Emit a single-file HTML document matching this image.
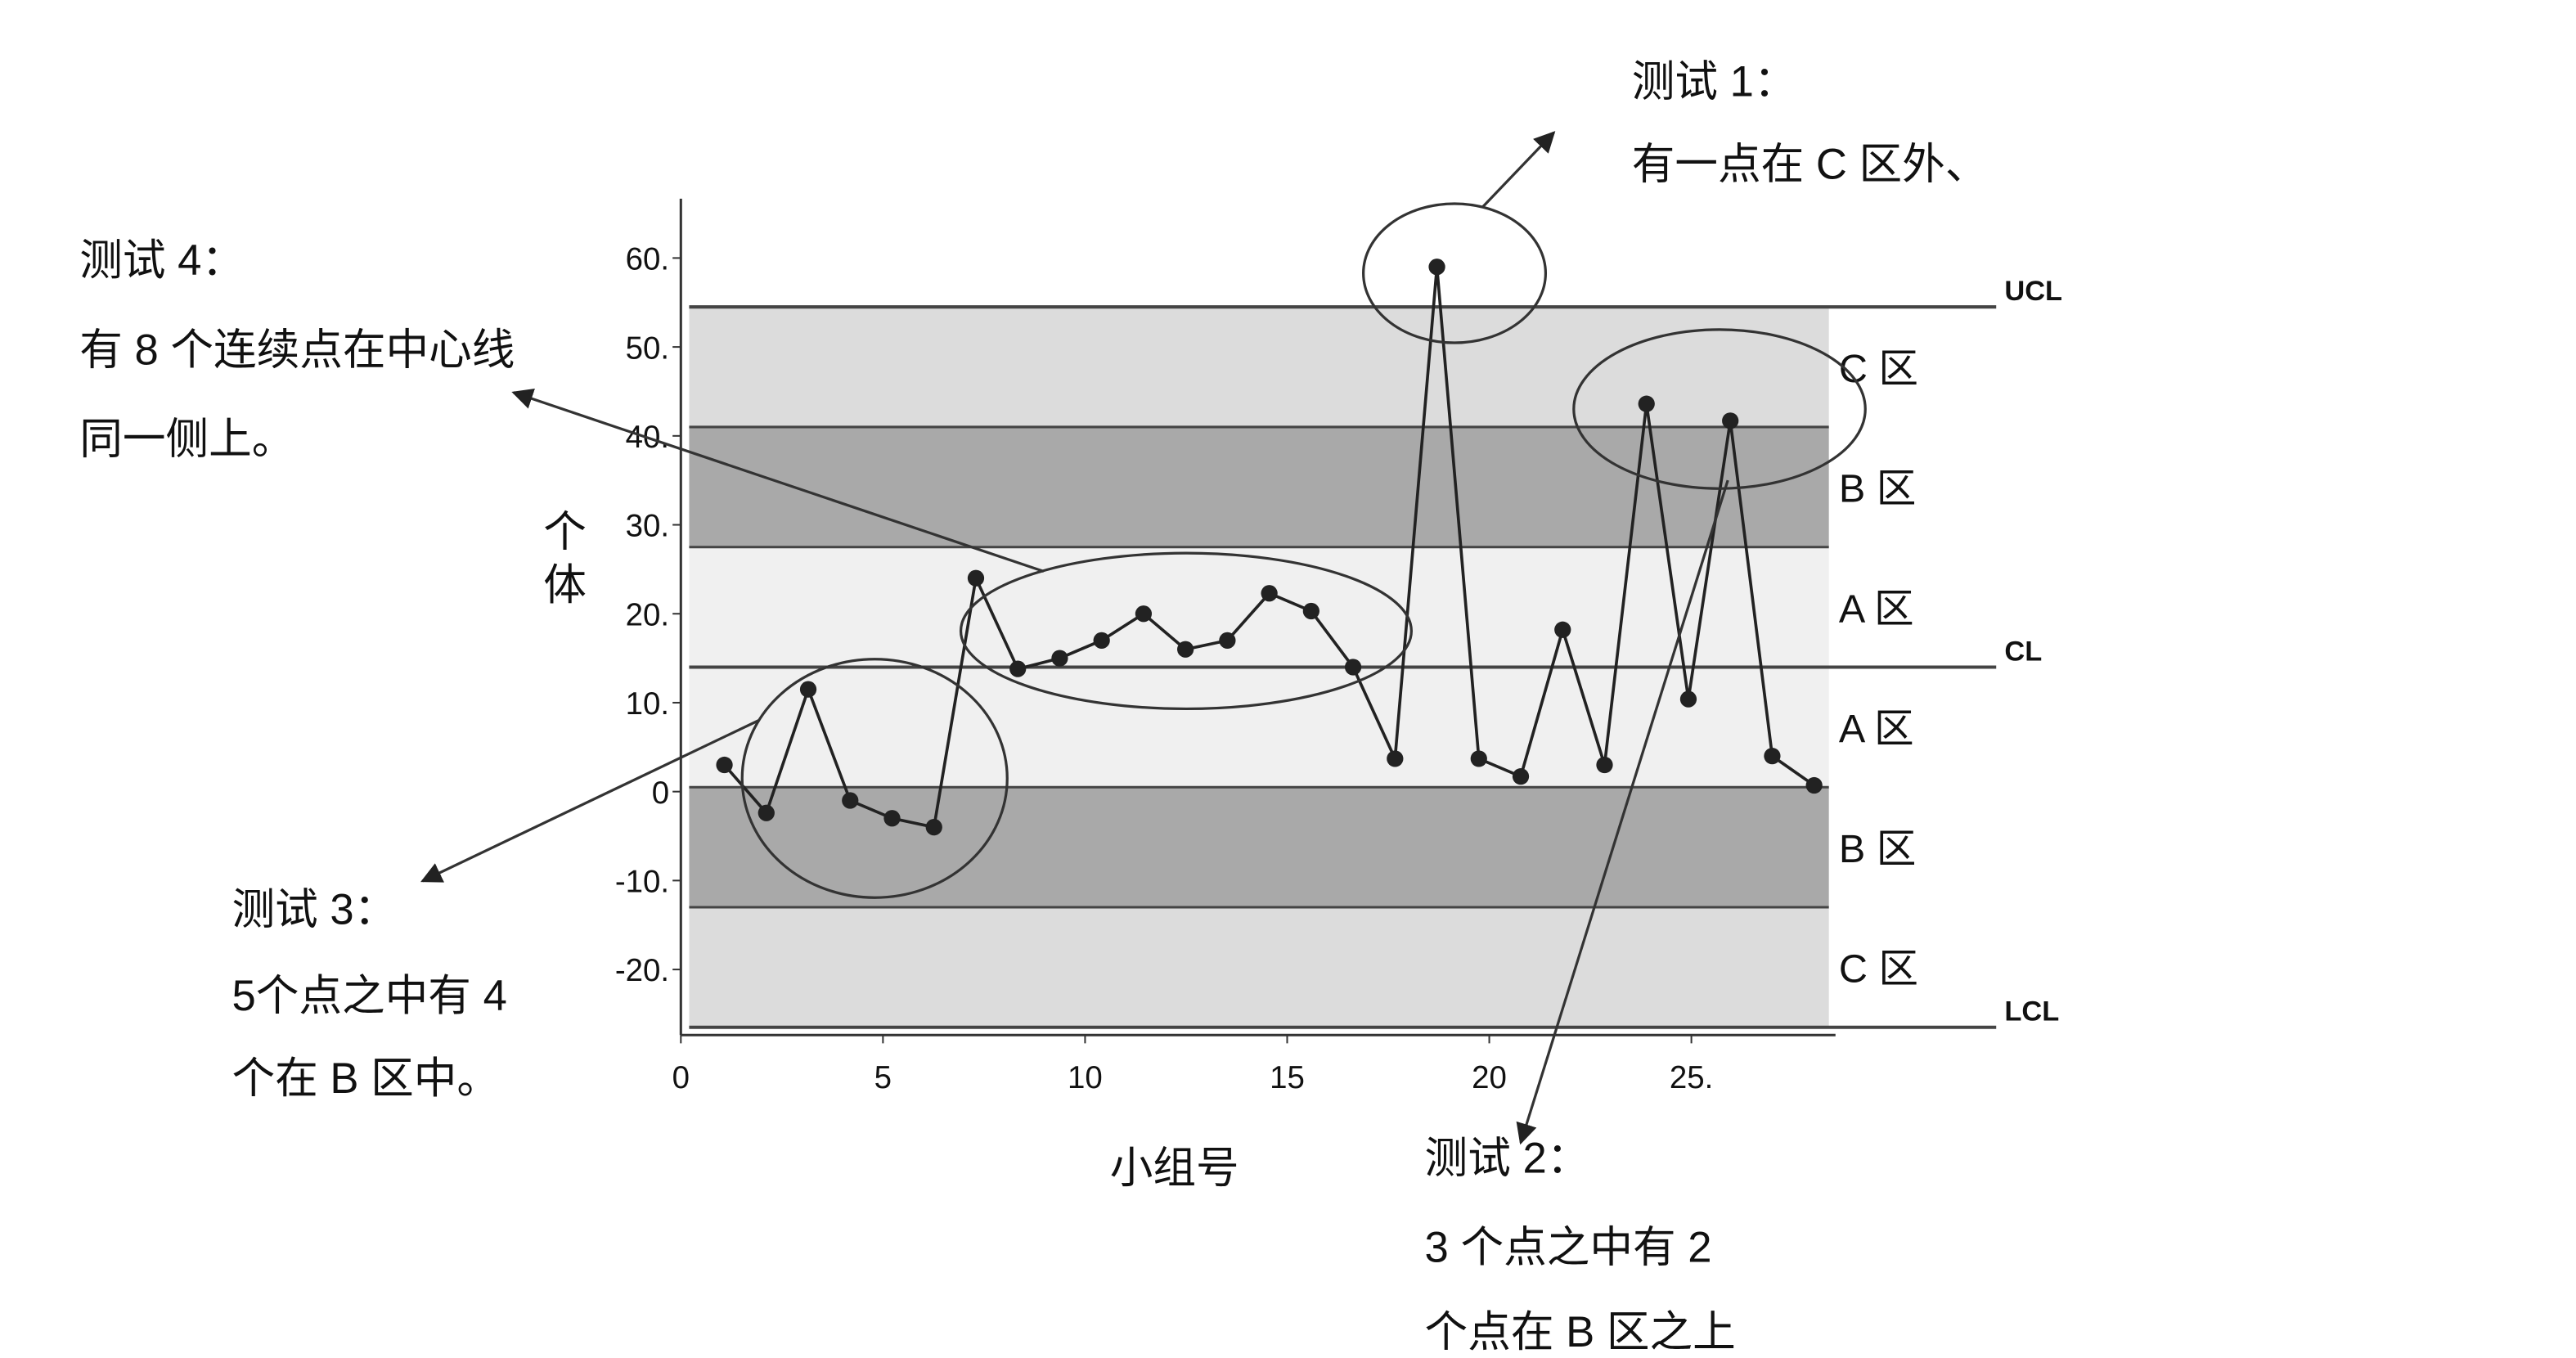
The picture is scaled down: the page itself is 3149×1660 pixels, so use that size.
<!DOCTYPE html>
<html><head><meta charset="utf-8">
<style>
html,body{margin:0;padding:0;background:#fff;}
svg{display:block;}
text{font-family:"Liberation Sans","Noto Sans CJK SC",sans-serif;fill:#111;}
.ann{font-size:26px;}
.tick{font-size:19px;}
.zone{font-size:24px;}
.lim{font-size:17px;font-weight:bold;}
</style></head>
<body>
<svg width="3149" height="1660" viewBox="0 0 1555 820" preserveAspectRatio="none" xmlns="http://www.w3.org/2000/svg">
<defs>
<marker id="ah" viewBox="0 0 10 10" refX="9" refY="5" markerWidth="8" markerHeight="8" orient="auto-start-reverse"><path d="M0,0 L10,5 L0,10 z" fill="#222"/></marker>
</defs>
<g id="bands"></g>
<g id="axes"></g>
<g id="series"></g>
<g id="annotations" stroke="#333" stroke-width="1.6" fill="none">
<ellipse cx="878" cy="165" rx="55" ry="42"/>
<line x1="895" y1="125" x2="938" y2="80" marker-end="url(#ah)"/>
<ellipse cx="716" cy="381" rx="136" ry="47"/>
<line x1="630" y1="345" x2="310" y2="237" marker-end="url(#ah)"/>
<ellipse cx="528" cy="470" rx="80" ry="72"/>
<line x1="458" y1="435" x2="255" y2="532" marker-end="url(#ah)"/>
<ellipse cx="1038" cy="247" rx="88" ry="48"/>
<line x1="1043" y1="290" x2="918" y2="690" marker-end="url(#ah)"/>
</g>
<g>
<text class="ann" x="985" y="58">测试 1：</text>
<text class="ann" x="985" y="108">有一点在 C 区外、</text>
<text class="ann" x="48" y="166">测试 4：</text>
<text class="ann" x="48" y="220">有 8 个连续点在中心线</text>
<text class="ann" x="48" y="274">同一侧上。</text>
<text class="ann" x="140" y="558">测试 3：</text>
<text class="ann" x="140" y="610">5个点之中有 4</text>
<text class="ann" x="140" y="660">个在 B 区中。</text>
<text class="ann" x="860" y="708">测试 2：</text>
<text class="ann" x="860" y="762">3 个点之中有 2</text>
<text class="ann" x="860" y="813">个点在 B 区之上</text>
<text class="ann" x="670" y="714">小组号</text>
<text class="ann" x="328" y="330">个</text>
<text class="ann" x="328" y="362">体</text>
</g>
</svg>
<script>
const values=[3,-2.4,11.5,-1,-3,-4,24,13.8,15,17,20,16,17,22.3,20.3,14,3.7,59,3.7,1.7,18.2,3,43.6,10.4,41.7,4,0.7];
const yTicks=[60,50,40,30,20,10,0,-10,-20];
const yTickLabels=["60.","50.","40.","30.","20.","10.","0","-10.","-20."];
const xTicks=[0,5,10,15,20,25];
const xTickLabels=["0","5","10","15","20","25."];
const limits=[14,13.5]; // CL, sigma
const zoneLabels=["C 区","B 区","A 区","A 区","B 区","C 区"];

const NS="http://www.w3.org/2000/svg";
const X=v=>412+25.3*v;
const XT=v=>411+24.4*v;
const Y=v=>478-5.37*v;
function mk(tag,attrs,parent,txt){const e=document.createElementNS(NS,tag);for(const k in attrs)e.setAttribute(k,attrs[k]);if(txt!==undefined)e.textContent=txt;parent.appendChild(e);return e;}
const bands=document.getElementById('bands'),axes=document.getElementById('axes'),series=document.getElementById('series');
const cl=limits[0],s=limits[1];
const bounds=[cl+3*s,cl+2*s,cl+s,cl,cl-s,cl-2*s,cl-3*s];
const fills=["#dcdcdc","#a9a9a9","#f0f0f0","#f0f0f0","#a9a9a9","#dcdcdc"];
for(let i=0;i<6;i++){
  const r=mk('rect',{x:416,y:Y(bounds[i]),width:688,height:Y(bounds[i+1])-Y(bounds[i]),fill:fills[i]},bands);
  
  
  const t=mk('text',{x:1110,y:(Y(bounds[i])+Y(bounds[i+1]))/2+9,class:'zone'},bands,zoneLabels[i]);
  
  
}
for(let i=0;i<7;i++){
  const long=(i===0||i===3||i===6);
  const l=mk('line',{x1:416,x2:long?1205:1104,y1:Y(bounds[i]),y2:Y(bounds[i]),stroke:'#444','stroke-width':long?2:1.5},bands);
  
  
}
[["UCL",0],["CL",3],["LCL",6]].forEach(([n,i])=>{
  const t=mk('text',{x:1210,y:Y(bounds[i])-4,class:'lim'},bands,n);
  
  
});
const ya=mk('line',{x1:411,x2:411,y1:120,y2:625,stroke:'#333','stroke-width':1.5},axes);


const xa=mk('line',{x1:411,x2:1108,y1:625,y2:625,stroke:'#333','stroke-width':1.5},axes);


yTicks.forEach((v,i)=>{
  mk('line',{x1:406,x2:411,y1:Y(v),y2:Y(v),stroke:'#333'},axes);
  const t=mk('text',{x:404,y:Y(v)+7,class:'tick','text-anchor':'end'},axes,yTickLabels[i]);
  
  
});
xTicks.forEach((v,i)=>{
  mk('line',{x1:XT(v),x2:XT(v),y1:625,y2:630,stroke:'#333'},axes);
  const t=mk('text',{x:XT(v),y:657,class:'tick','text-anchor':'middle'},axes,xTickLabels[i]);
  
  
});
const pts=values.map((v,i)=>X(i+1)+','+Y(v)).join(' ');
const pl=mk('polyline',{points:pts,fill:'none',stroke:'#222','stroke-width':1.8},series);


values.forEach((v,i)=>{
  const c=mk('circle',{cx:X(i+1),cy:Y(v),r:5,fill:'#222'},series);
  
  
});
</script>
</body></html>
